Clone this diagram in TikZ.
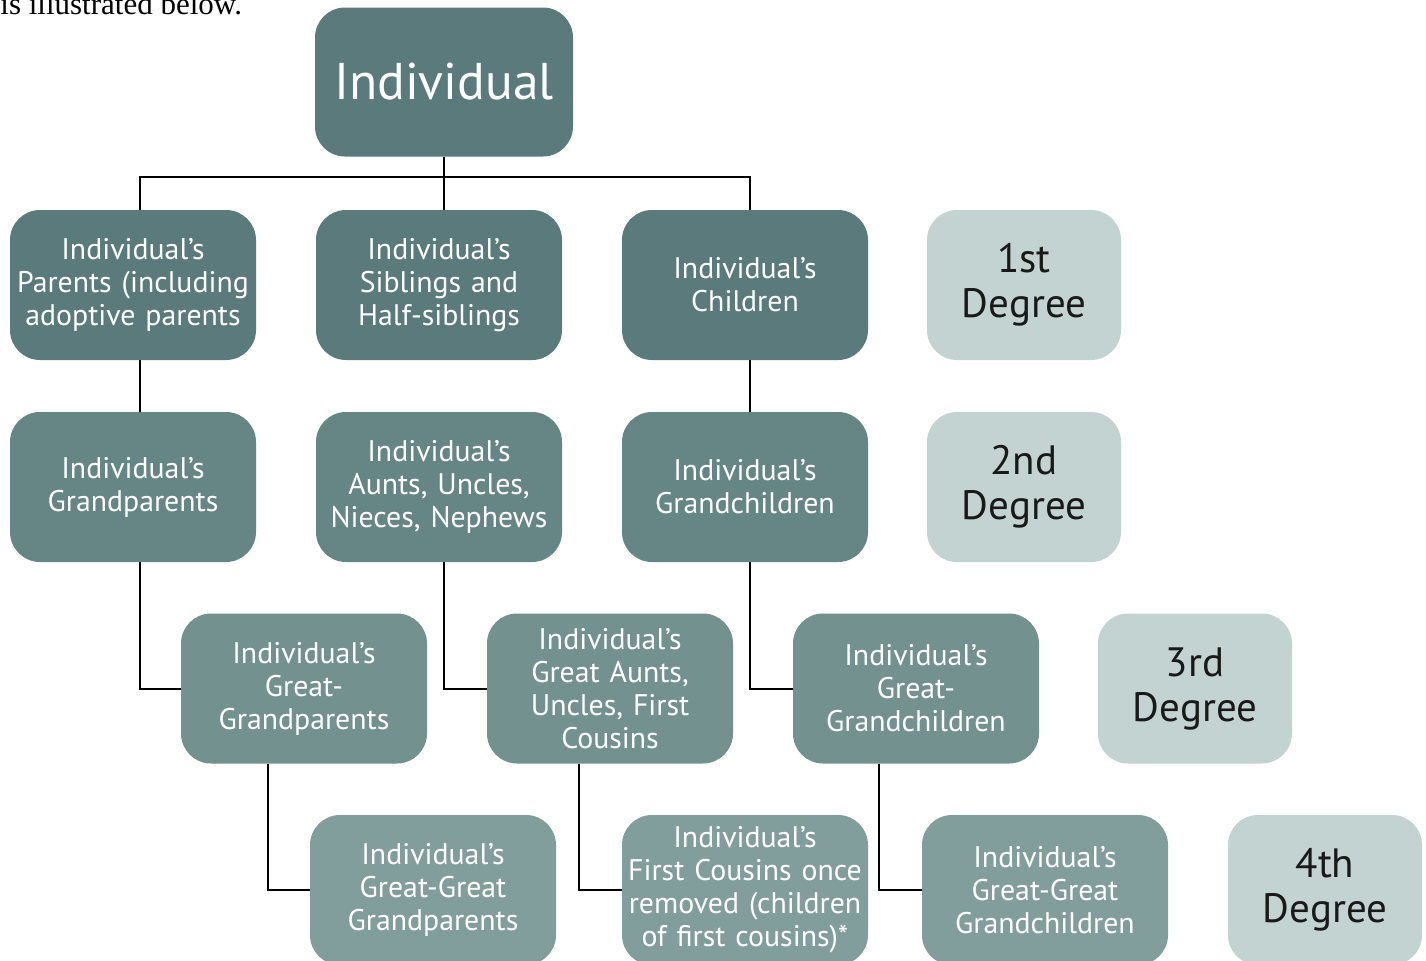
\documentclass[tikz,border=0pt]{standalone}
\usepackage{fontspec}
\setmainfont{PT Sans}
\newfontfamily\leadface{Liberation Serif}
\usetikzlibrary{calc}

% one fill per generation, lighter as we go down
\definecolor{tierA}{HTML}{5A7A7B}
\definecolor{tierB}{HTML}{668685}
\definecolor{tierC}{HTML}{73918F}
\definecolor{tierD}{HTML}{829E9C}
\definecolor{degfill}{HTML}{C2D3D1}

\begin{document}
\begin{tikzpicture}[x=0.5pt,y=-0.5pt,
  box/.style={rounded corners=15pt, minimum width=123pt, minimum height=75pt,
    inner sep=0pt, text width=122pt, align=center, text=white,
    font=\fontsize{14.9}{16.5}\selectfont},
  degree/.style={box, fill=degfill, minimum width=97pt, text width=95pt,
    text=black!90, font=\fontsize{20.5}{22.5}\selectfont},
  link/.style={line width=1pt}]
\useasboundingbox (0,0) rectangle (1426,960);

\node[anchor=base west, inner sep=0pt, font=\leadface\fontsize{15.5}{18}\selectfont] (lead) at (0,14) {is illustrated below.};

% root
\node[box, fill=tierA, minimum width=129pt, minimum height=74.5pt,
  font=\fontsize{25.8}{30}\selectfont] (ind) at (444,82) {Individual};

% first degree
\node[box, fill=tierA] (par) at (133,285) {Individual’s\\Parents (including\\adoptive parents};
\node[box, fill=tierA] (sib) at (439,285) {Individual’s\\Siblings and\\Half-siblings};
\node[box, fill=tierA] (chi) at (745,285) {Individual’s\\Children};
\node[degree] (deg1) at (1024,285) {1st\\Degree};

% second degree
\node[box, fill=tierB] (gpar) at (133,487) {Individual’s\\Grandparents};
\node[box, fill=tierB] (aunt) at (439,487) {Individual’s\\Aunts, Uncles,\\Nieces, Nephews};
\node[box, fill=tierB] (gchi) at (745,487) {Individual’s\\Grandchildren};
\node[degree] (deg2) at (1024,487) {2nd\\Degree};

% third degree
\node[box, fill=tierC] (ggpar) at (304,688.5) {Individual’s\\Great-\\Grandparents};
\node[box, fill=tierC] (gaunt) at (610,688.5) {Individual’s\\Great Aunts,\\Uncles, First\\Cousins};
\node[box, fill=tierC] (ggchi) at (916,688.5) {Individual’s\\Great-\\Grandchildren};
\node[degree] (deg3) at (1195,688.5) {3rd\\Degree};

% fourth degree
\node[box, fill=tierD] (gggpar) at (433,890) {Individual’s\\Great-Great\\Grandparents};
\node[box, fill=tierD] (fcr) at (745,890) {Individual’s\\First Cousins once\\removed (children\\of first cousins)*};
\node[box, fill=tierD] (gggchi) at (1045,890) {Individual’s\\Great-Great\\Grandchildren};
\node[degree] (deg4) at (1325,890) {4th\\Degree};

% connectors
\coordinate (bus) at ($(ind.south)+(0,20)$);
\draw[link] (ind.south) -- (bus);
\draw[link] ($(par.north)+(7,0)$) |- (bus) -| ($(chi.north)+(5,0)$);
\draw[link] (bus) -- ($(sib.north)+(5,0)$);

\draw[link] ($(par.south)+(7,0)$) -- ($(gpar.north)+(7,0)$);
\draw[link] ($(chi.south)+(5,0)$) -- ($(gchi.north)+(5,0)$);

\draw[link] ($(gpar.south)+(7,0)$) |- (ggpar.west);
\draw[link] ($(aunt.south)+(5,0)$) |- (gaunt.west);
\draw[link] ($(gchi.south)+(5,0)$) |- (ggchi.west);

\draw[link] ($(ggpar.south)+(-36,0)$) |- (gggpar.west);
\draw[link] ($(gaunt.south)+(-31,0)$) |- (fcr.west);
\draw[link] ($(ggchi.south)+(-37,0)$) |- (gggchi.west);
\end{tikzpicture}
\end{document}
